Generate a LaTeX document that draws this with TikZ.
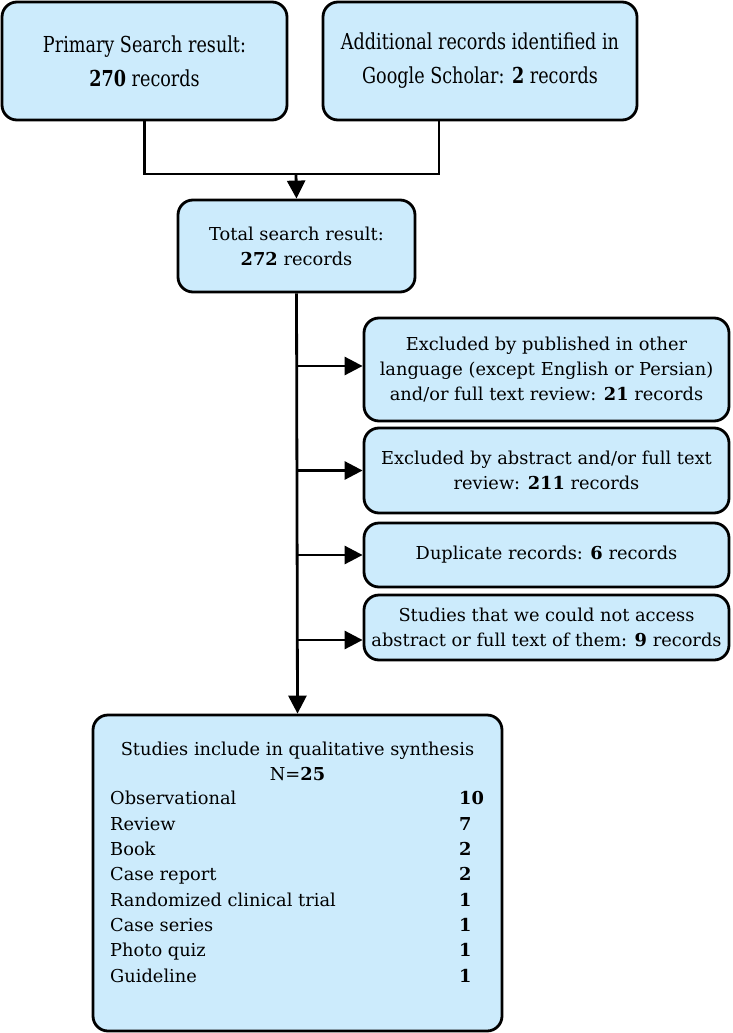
\documentclass[tikz,border=0pt]{standalone}
\usepackage{fontspec}
\setmainfont{DejaVu Serif}
\newfontfamily\narrowfont[FakeStretch=0.8]{DejaVu Serif}
\usetikzlibrary{arrows.meta,calc}
\definecolor{boxfill}{RGB}{204,235,252}
\tikzset{
  box/.style={draw=black, line width=2.8pt, fill=boxfill, rounded corners=15pt, align=center, inner sep=0pt, font=\fontsize{17.8}{25}\selectfont},
  topbox/.style={box, font=\narrowfont\fontsize{22}{34}\selectfont},
  txt/.style={align=center, inner sep=0pt, font=\fontsize{17.8}{25}\selectfont},
  conn/.style={line width=2.8pt},
  arr/.style={conn, -{Triangle[length=18pt,width=18pt]}},
}
\begin{document}
\begin{tikzpicture}[x=1pt,y=-1pt]
\useasboundingbox (0,0) rectangle (732,1033);
\node[topbox, minimum width=285pt, minimum height=118pt] (b1) at (144.5,61) {Primary Search result:\\\textbf{270} records};
\node[topbox, minimum width=314pt, minimum height=118pt] (b2) at (480,61) {Additional records identified in\\Google Scholar: \textbf{2} records};
\node[box, minimum width=237pt, minimum height=92pt] (b3) at (296.5,246) {Total search result:\\\textbf{272} records};
\node[box, minimum width=365pt, minimum height=103pt] (b4) at (546.5,369.5) {Excluded by published in other\\language (except English or Persian)\\and/or full text review: \textbf{21} records};
\node[box, minimum width=365pt, minimum height=85pt] (b5) at (546.5,470.5) {Excluded by abstract and/or full text\\review: \textbf{211} records};
\node[box, minimum width=365pt, minimum height=64pt] (b6) at (546.5,555) {Duplicate records: \textbf{6} records};
\node[box, minimum width=365pt, minimum height=65pt] (b7) at (546.5,627.5) {Studies that we could not access\\abstract or full text of them: \textbf{9} records};
\node[box, minimum width=409pt, minimum height=316pt] (b8) at (297.5,873) {};
\node[txt] (hdr) at (297.5,761) {Studies include in qualitative synthesis\\N=\textbf{25}};
\node[txt, anchor=north west] (lst) at (110,787) {\fontsize{17.8}{25.3}\selectfont\begin{tabular}{@{}p{349pt}@{}l@{}}
Observational & \textbf{10}\\
Review & \textbf{7}\\
Book & \textbf{2}\\
Case report & \textbf{2}\\
Randomized clinical trial & \textbf{1}\\
Case series & \textbf{1}\\
Photo quiz & \textbf{1}\\
Guideline & \textbf{1}
\end{tabular}};
\coordinate (j) at (296,174);
\draw[conn] (b1.south) |- (j);
\draw[conn] ($(b2.south)+(-41,0)$) |- (j);
\draw[arr] (j) -- (b3.north);
\draw[arr] (b3.south) -- (b8.north);
\draw[arr] (b3.south |- 0,366) -- (b4.west |- 0,366);
\draw[arr] (b3.south |- b5.west) -- (b5.west);
\draw[arr] (b3.south |- b6.west) -- (b6.west);
\draw[arr] (b3.south |- 0,640) -- (b7.west |- 0,640);
\end{tikzpicture}
\end{document}
